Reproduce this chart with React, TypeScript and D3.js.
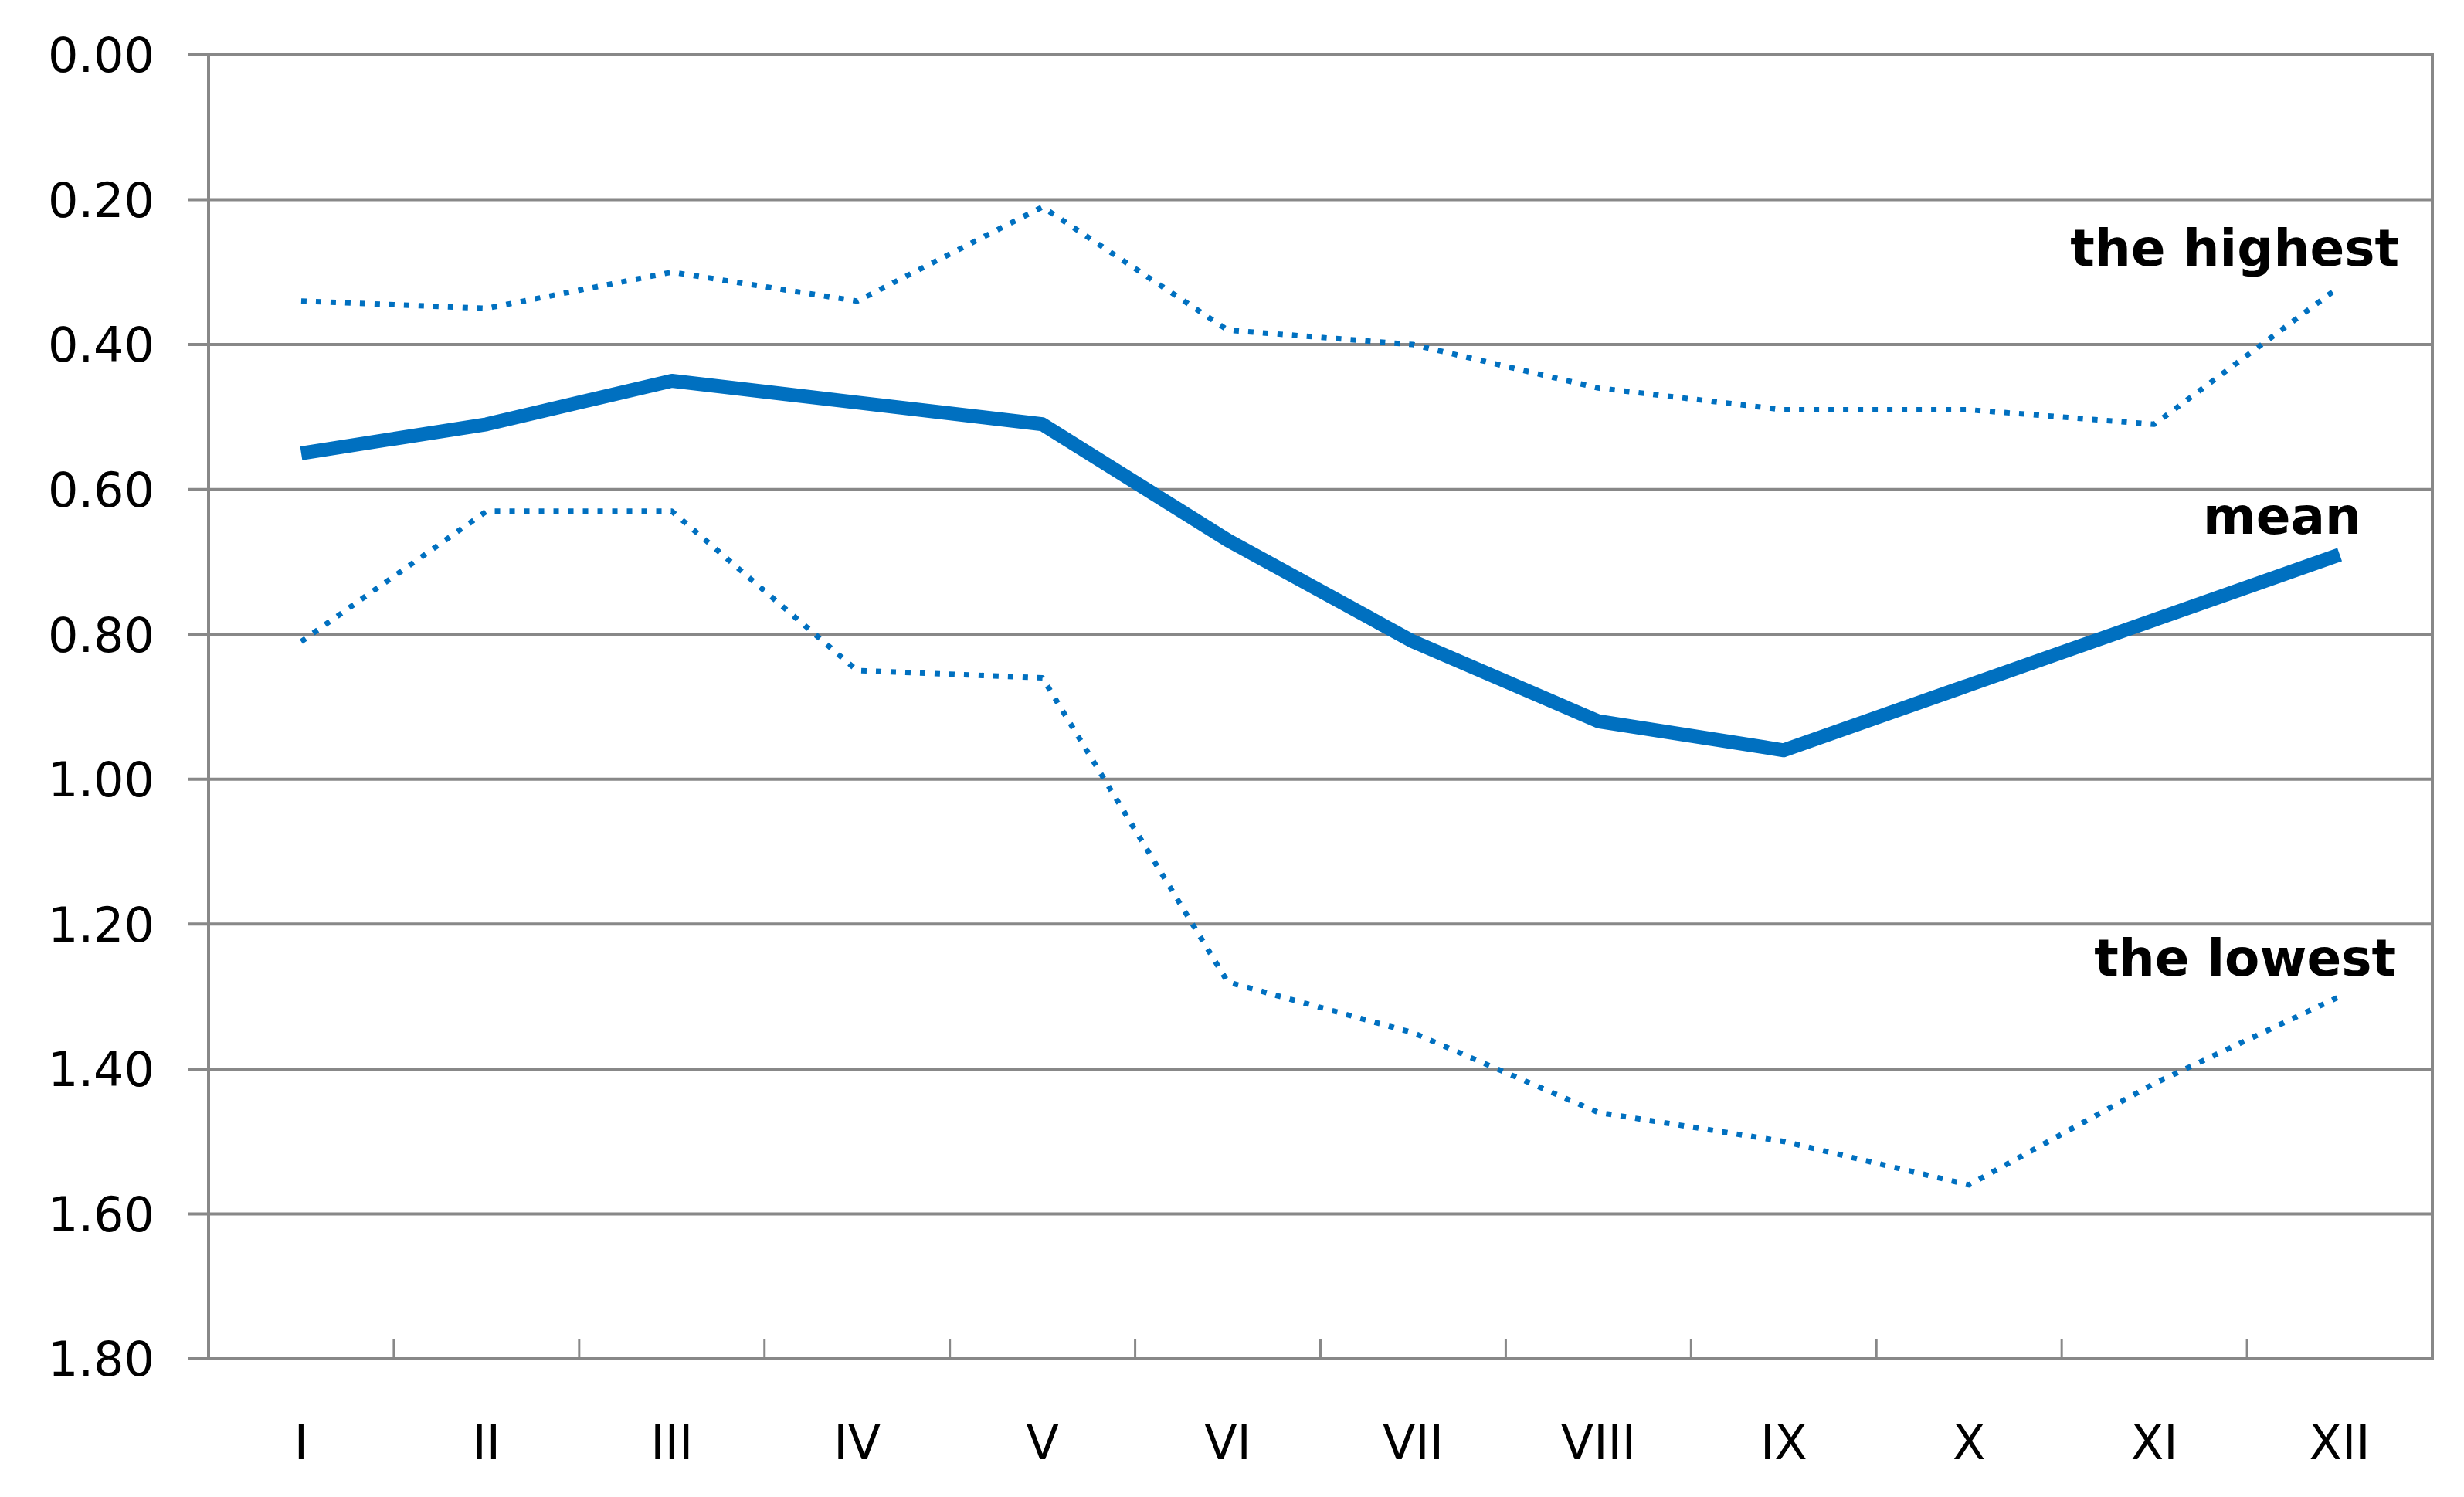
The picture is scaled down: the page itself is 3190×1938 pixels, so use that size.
import * as d3 from "d3";
import React, { useEffect, useRef } from "react";

// months on the x axis
const months = ["I", "II", "III", "IV", "V", "VI", "VII", "VIII", "IX", "X", "XI", "XII"];

// series values
const highest = [0.34, 0.35, 0.3, 0.34, 0.21, 0.38, 0.4, 0.46, 0.49, 0.49, 0.51, 0.32];
const mean = [0.55, 0.51, 0.45, 0.48, 0.51, 0.67, 0.81, 0.92, 0.96, 0.87, 0.78, 0.69];
const lowest = [0.81, 0.63, 0.63, 0.85, 0.86, 1.28, 1.35, 1.46, 1.5, 1.56, 1.42, 1.3];

const yTicks = [0, 0.2, 0.4, 0.6, 0.8, 1.0, 1.2, 1.4, 1.6, 1.8];

const seriesLabels = ["the highest", "mean", "the lowest"];

export const App: React.FC = () => {
  const svgRef = useRef<SVGSVGElement | null>(null);

  useEffect(() => {
    if (!svgRef.current) return;

    const width = 3190;
    const height = 1938;
    const left = 270;
    const right = 3149;
    const top = 71;
    const bottom = 1759;
    const grid = "#888888";
    const blue = "#0070c0";

    const x = d3.scaleBand<string>().domain(months).range([left, right]);
    const y = d3.scaleLinear().domain([0, 1.8]).range([top, bottom]);

    const svg = d3.select(svgRef.current);
    svg.selectAll("*").remove();
    svg.attr("width", width).attr("height", height);

    // horizontal gridlines (0.00 .. 1.80), with little stubs left of the axis
    svg
      .append("g")
      .selectAll("line")
      .data(yTicks)
      .join("line")
      .attr("x1", left - 27)
      .attr("x2", right)
      .attr("y1", (d) => y(d))
      .attr("y2", (d) => y(d))
      .attr("stroke", grid)
      .attr("stroke-width", 4);

    // y axis labels
    svg
      .append("g")
      .attr("font-family", "DejaVu Sans, Verdana, sans-serif")
      .attr("font-size", 62)
      .attr("fill", "#000")
      .attr("text-anchor", "end")
      .selectAll("text")
      .data(yTicks)
      .join("text")
      .attr("x", 200)
      .attr("y", (d) => y(d))
      .attr("dy", "0.36em")
      .text((d) => d.toFixed(2));

    // left axis and right border
    svg
      .append("g")
      .attr("stroke", grid)
      .attr("stroke-width", 4)
      .selectAll("line")
      .data([left, right])
      .join("line")
      .attr("x1", (d) => d)
      .attr("x2", (d) => d)
      .attr("y1", top - 2)
      .attr("y2", bottom + 2);

    // inside tick marks at category boundaries
    const bounds = months.map((m) => x(m)!).concat([right]);
    svg
      .append("g")
      .selectAll("line")
      .data(bounds)
      .join("line")
      .attr("x1", (d) => d)
      .attr("x2", (d) => d)
      .attr("y1", bottom)
      .attr("y2", bottom - 26)
      .attr("stroke", grid)
      .attr("stroke-width", 3);

    // x axis labels
    svg
      .append("g")
      .attr("font-family", "DejaVu Sans, Verdana, sans-serif")
      .attr("font-size", 62)
      .attr("fill", "#000")
      .attr("text-anchor", "middle")
      .selectAll("text")
      .data(months)
      .join("text")
      .attr("x", (d) => x(d)! + x.bandwidth() / 2)
      .attr("y", 1889)
      .text((d) => d);

    const line = d3
      .line<number>()
      .x((_, i) => x(months[i])! + x.bandwidth() / 2)
      .y((d) => y(d));

    const series = [
      { values: highest, width: 7, dash: "7 12" },
      { values: mean, width: 18, dash: null },
      { values: lowest, width: 7, dash: "7 12" },
    ];

    svg
      .append("g")
      .attr("fill", "none")
      .attr("stroke", blue)
      .selectAll("path")
      .data(series)
      .join("path")
      .attr("stroke-width", (d) => d.width)
      .attr("stroke-dasharray", (d) => d.dash)
      .attr("stroke-linejoin", "round")
      .attr("d", (d) => line(d.values));

    // series labels near the December end of each line
    const labelDx = [77, 28, 73];
    const last = months[months.length - 1];
    svg
      .append("g")
      .attr("font-family", "DejaVu Sans, Verdana, sans-serif")
      .attr("font-weight", "bold")
      .attr("font-size", 66)
      .attr("fill", "#000")
      .attr("text-anchor", "end")
      .selectAll("text")
      .data(series)
      .join("text")
      .attr("x", (_, i) => x(last)! + x.bandwidth() / 2 + labelDx[i])
      .attr("y", (d) => y(d.values[d.values.length - 1]) - 27)
      .text((_, i) => seriesLabels[i]);
  }, []);

  return (
    <>
      <style>{"body{margin:0;background:#fff}"}</style>
      <svg ref={svgRef} style={{ display: "block" }} />
    </>
  );
};

export default App;
